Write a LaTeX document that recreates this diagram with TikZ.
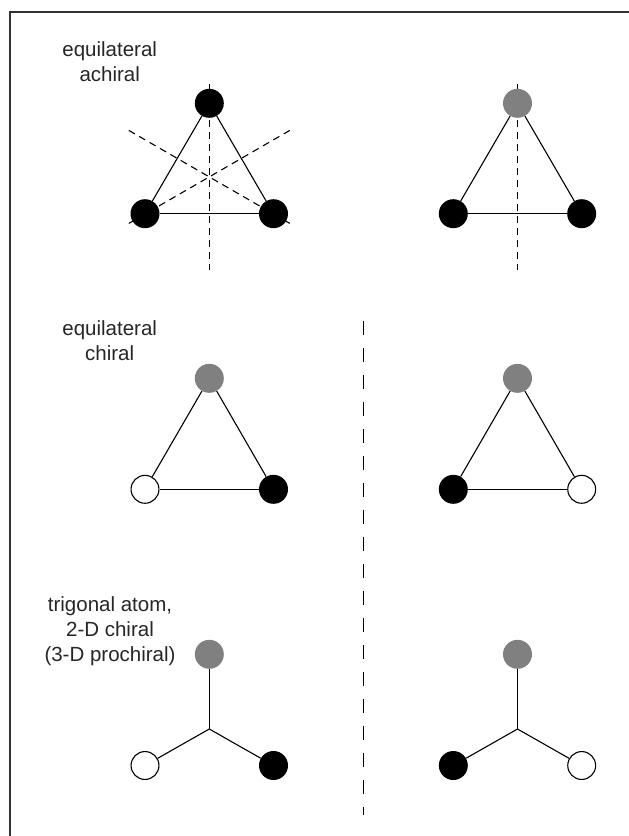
\documentclass[tikz,border=0pt]{standalone}
\usepackage{fontspec}
\setmainfont{Liberation Sans}
\usetikzlibrary{calc}
\pgfdeclarelayer{bg}
\pgfsetlayers{bg,main}
\begin{document}
\begin{tikzpicture}[x=1pt,y=-1pt,
  atom/.style={circle,minimum size=29pt,inner sep=0pt},
  blk/.style={atom,fill=black},
  gry/.style={atom,fill={rgb,255:red,128;green,128;blue,128}},
  wht/.style={atom,draw=black,line width=1.1pt,fill=white,minimum size=27.9pt},
  bond/.style={line width=1.1pt,black},
  sym/.style={line width=1.1pt,black,dash pattern=on 7pt off 5pt},
  divider/.style={line width=1.6pt,black,dash pattern=on 14pt off 13pt},
  frame/.style={line width=1.3pt,black!80},
  lbl/.style={align=center,inner sep=0pt,text=black!85,font=\fontsize{20.5}{25}\selectfont}]
\useasboundingbox (0,0) rectangle (629,836);
% frame
\coordinate (fr1) at (10,836);
\coordinate (fr2) at (10,12);
\coordinate (fr3) at (629,12);
\draw[frame] (fr1) -- (fr2) -- (fr3);

% labels
\node[lbl,anchor=north] (t1) at (109.7,41) {equilateral\\achiral};
\node[lbl,anchor=north] (t2) at (109.7,320) {equilateral\\chiral};
\node[lbl,anchor=north] (t3) at (110,596) {trigonal atom,\\2-D chiral\\(3-D prochiral)};

% row 1 left
\node[blk] (a1) at (209.3,103.3) {};
\node[blk] (a2) at (145,213.7) {};
\node[blk] (a3) at (273.5,213.7) {};
\coordinate (c1) at (209.3,176.9);
% row 1 right
\node[gry] (b1) at (517.5,103.3) {};
\node[blk] (b2) at (453.3,213.7) {};
\node[blk] (b3) at (581.7,213.7) {};
\coordinate (c2) at (517.5,176.9);
% row 2 left
\node[gry] (d1) at (209.3,378.3) {};
\node[wht] (d2) at (145,489.3) {};
\node[blk] (d3) at (273.5,489.3) {};
% row 2 right
\node[gry] (e1) at (517.5,378.3) {};
\node[blk] (e2) at (453.3,489.3) {};
\node[wht] (e3) at (581.7,489.3) {};
% row 3 left
\node[gry] (f1) at (209.3,654.3) {};
\coordinate (f0) at (209.3,729);
\node[wht] (f2) at (145,765.5) {};
\node[blk] (f3) at (273.5,765.5) {};
% row 3 right
\node[gry] (g1) at (517.5,654.3) {};
\coordinate (g0) at (517.5,729);
\node[blk] (g2) at (453.3,765.5) {};
\node[wht] (g3) at (581.7,765.5) {};

% divider
\coordinate (v1) at (363.3,320.7);
\coordinate (v2) at (363.3,815);
\draw[divider] (v1) -- (v2);

\begin{pgfonlayer}{bg}
  \draw[bond] (a1) -- (a2);
  \draw[bond] (a2) -- (a3);
  \draw[bond] (a3) -- (a1);
  \draw[sym] ([shift={(0,-93)}]c1) -- ([shift={(0,93)}]c1);
  \draw[sym] ([shift={(-80.5,-46.5)}]c1) -- ([shift={(80.5,46.5)}]c1);
  \draw[sym] ([shift={(80.5,-46.5)}]c1) -- ([shift={(-80.5,46.5)}]c1);
  \draw[bond] (b1) -- (b2);
  \draw[bond] (b2) -- (b3);
  \draw[bond] (b3) -- (b1);
  \draw[sym] ([shift={(0,-93)}]c2) -- ([shift={(0,93)}]c2);
  \draw[bond] (d1) -- (d2);
  \draw[bond] (d2) -- (d3);
  \draw[bond] (d3) -- (d1);
  \draw[bond] (e1) -- (e2);
  \draw[bond] (e2) -- (e3);
  \draw[bond] (e3) -- (e1);
  \draw[bond] (f1) -- (f0);
  \draw[bond] (f2) -- (f0);
  \draw[bond] (f3) -- (f0);
  \draw[bond] (g1) -- (g0);
  \draw[bond] (g2) -- (g0);
  \draw[bond] (g3) -- (g0);
\end{pgfonlayer}
\end{tikzpicture}
\end{document}
